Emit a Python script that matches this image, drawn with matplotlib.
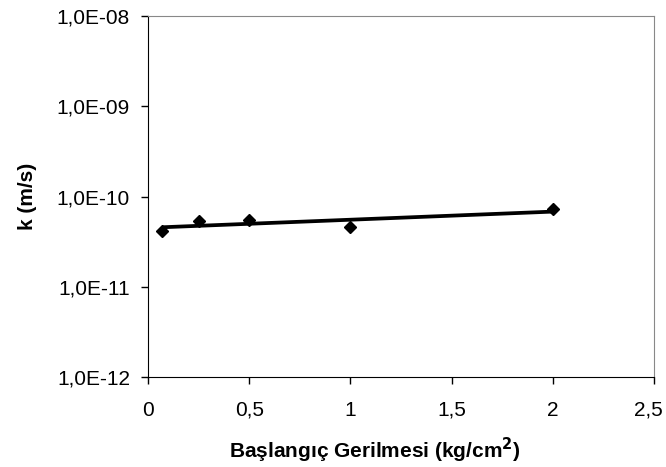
import numpy as np
import matplotlib.pyplot as plt
import matplotlib.transforms as mtransforms
from matplotlib.ticker import FixedLocator, FuncFormatter, NullLocator

plt.rcParams['font.family'] = ['Liberation Sans', 'DejaVu Sans']

# initial stress (kg/cm2) and permeability k (m/s)
stress = [0.07, 0.25, 0.5, 1.0, 2.0]
k_vals = [4.2e-11, 5.3e-11, 5.5e-11, 4.6e-11, 7.2e-11]

y_ticks = [1e-12, 1e-11, 1e-10, 1e-9, 1e-8]
x_ticks = [0, 0.5, 1, 1.5, 2, 2.5]

# exponential trend line through the points
b, ln_a = np.polyfit(stress, np.log(k_vals), 1)
xt = np.linspace(min(stress), max(stress), 100)
yt = np.exp(ln_a + b * xt)

fig = plt.figure(figsize=(6.66, 4.67), dpi=100)
ax = fig.add_axes([0.2222, 0.1927, 0.7598, 0.773])

ax.plot(xt, yt, color='black', lw=2.7, solid_capstyle='butt')
ax.plot(stress, k_vals, 'D', color='black', ms=6)

ax.set_yscale('log')
ax.set_ylim(1e-12, 1e-8)
ax.set_xlim(0, 2.5)
ax.yaxis.set_major_locator(FixedLocator(y_ticks))
ax.yaxis.set_minor_locator(NullLocator())
ax.yaxis.set_major_formatter(FuncFormatter(
    lambda v, p: '1,0E-%02d' % round(-np.log10(v))))
ax.set_xticks(x_ticks)
ax.xaxis.set_major_formatter(FuncFormatter(
    lambda v, p: ('%g' % v).replace('.', ',')))

ax.tick_params(labelsize=15, length=5, width=1, direction='out', colors='black')
ax.tick_params(axis='x', pad=12)
ax.tick_params(axis='y', pad=8)

# keep the last x label inside the figure
last = ax.get_xticklabels()[-1]
last.set_transform(last.get_transform() +
                   mtransforms.ScaledTranslation(-4 / 72, 0, fig.dpi_scale_trans))

for side in ['left', 'bottom']:
    ax.spines[side].set_color('black')
for side in ['top', 'right']:
    ax.spines[side].set_color('#888888')

ax.set_ylabel('k (m/s)', fontsize=15, fontweight='bold', labelpad=14)
ax.set_xlabel('Başlangıç Gerilmesi (kg/cm$\\mathbf{^2}$)', fontsize=15,
              fontweight='bold', labelpad=12)
ax.xaxis.label.set_x(0.449)

fig.savefig('out.png', dpi=100)
